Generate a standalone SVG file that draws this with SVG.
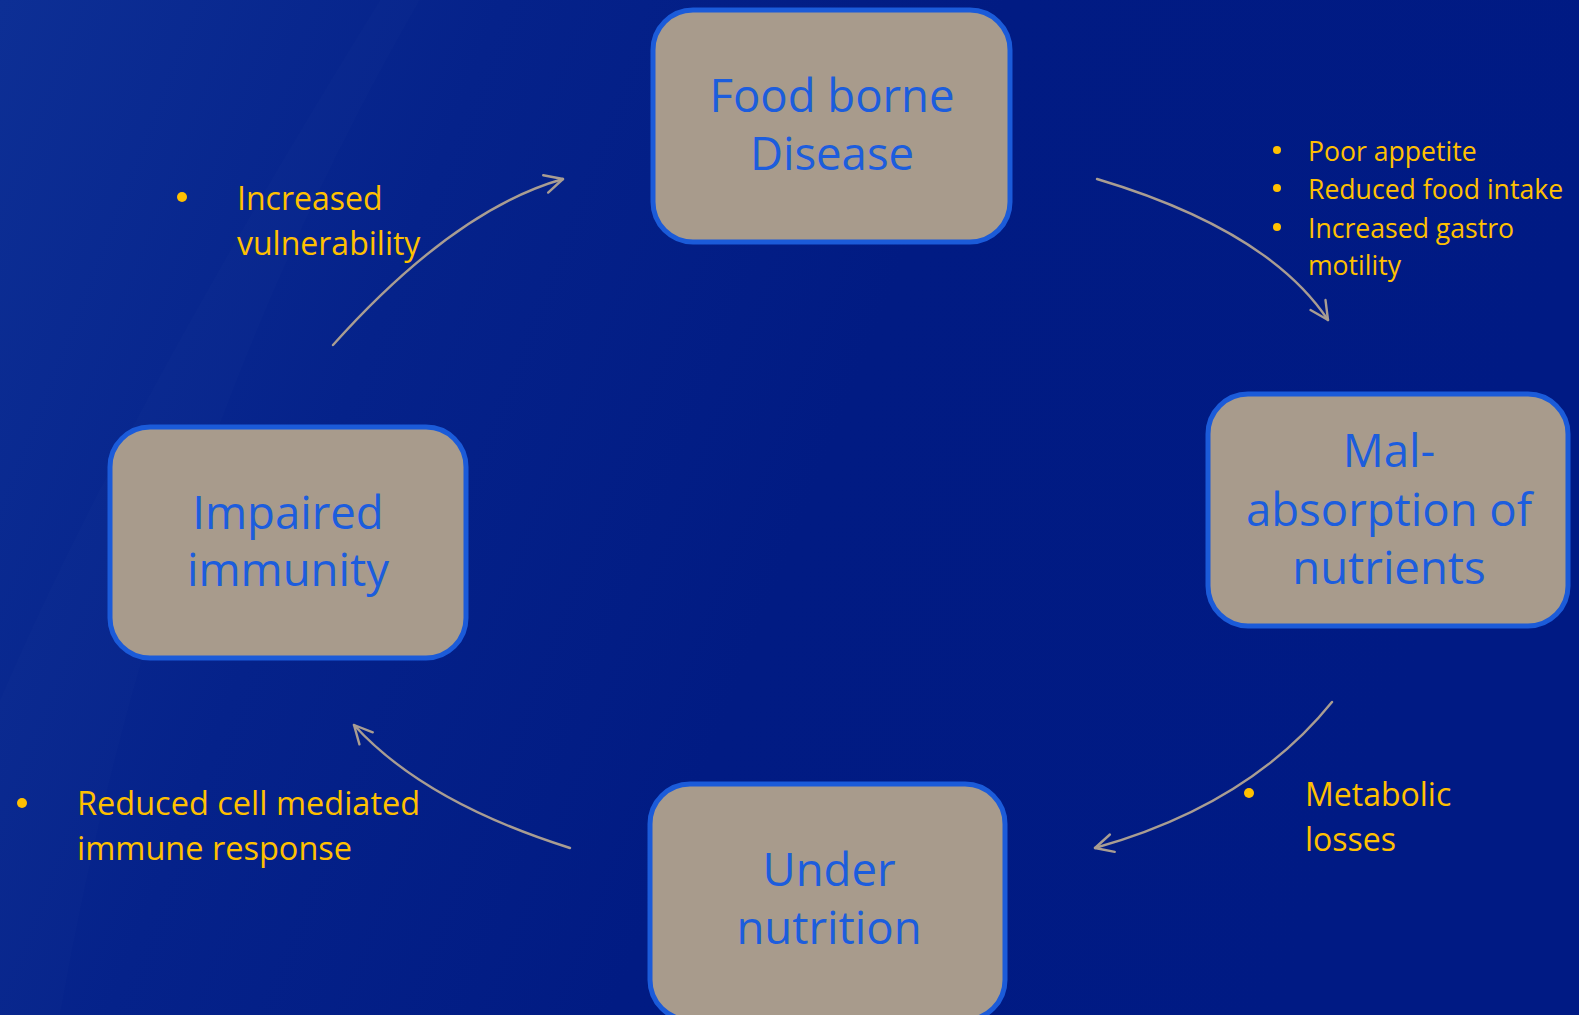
<svg xmlns="http://www.w3.org/2000/svg" width="1579" height="1015" viewBox="0 0 1579 1015">
  <style>
    .box rect { fill: #a89b8c; stroke: #1b5bd9; stroke-width: 5; }
    .box text { font-family: "Open Sans", "Noto Sans", sans-serif; font-size: 45.5px; fill: #1c5ddd; text-anchor: middle; }
    .lbl { font-family: "Open Sans", "Noto Sans", sans-serif; fill: #ffc000; }
    .lbl circle { fill: #ffc000; }
    .conn path { fill: none; stroke: #a99d92; stroke-width: 2.4; stroke-linecap: round; }
  </style>
  <defs>
    <linearGradient id="bg" x1="0" y1="0" x2="1" y2="0.25">
      <stop offset="0" stop-color="#0d2f95"/>
      <stop offset="0.3" stop-color="#05228a"/>
      <stop offset="0.6" stop-color="#011b83"/>
      <stop offset="1" stop-color="#001a84"/>
    </linearGradient>
    <marker id="ah" viewBox="0 0 22 22" refX="20" refY="11" markerWidth="22" markerHeight="22" markerUnits="userSpaceOnUse" orient="auto">
      <path d="M2,2 L20,11 L2,20" fill="none" stroke="#a99d92" stroke-width="2.4" stroke-linecap="round" stroke-linejoin="round"/>
    </marker>
  </defs>
  <rect x="0" y="0" width="1579" height="1015" fill="url(#bg)"/>
  <path d="M0,1015 L0,700 Q120,420 380,0 L420,0 Q160,450 60,1015 Z" fill="#ffffff" opacity="0.012"/>

  <g id="connectors" class="conn">
    <path d="M1097,179 Q1268,230 1328,320" marker-end="url(#ah)"/>
    <path d="M1332,702 Q1249,805 1095,848" marker-end="url(#ah)"/>
    <path d="M570,848 Q424,802 354,725" marker-end="url(#ah)"/>
    <path d="M333,345 Q454,210 563,179" marker-end="url(#ah)"/>
  </g>

  <g id="node-food-borne-disease" class="box">
    <rect x="653" y="10" width="357" height="232" rx="40"/>
    <text x="832" y="112">Food borne</text>
    <text x="832" y="170">Disease</text>
  </g>
  <g id="node-malabsorption" class="box">
    <rect x="1208" y="394" width="360" height="232" rx="40"/>
    <text x="1389" y="467">Mal-</text>
    <text x="1389" y="526">absorption of</text>
    <text x="1389" y="584">nutrients</text>
  </g>
  <g id="node-under-nutrition" class="box">
    <rect x="650" y="784" width="355" height="236" rx="40"/>
    <text x="829" y="886">Under</text>
    <text x="829" y="944">nutrition</text>
  </g>
  <g id="node-impaired-immunity" class="box">
    <rect x="110" y="427" width="356" height="231" rx="40"/>
    <text x="288" y="529">Impaired</text>
    <text x="288" y="586">immunity</text>
  </g>

  <g id="label-food-to-mal" class="lbl" font-size="26.6">
    <circle cx="1277" cy="150" r="4"/><text x="1308" y="161">Poor appetite</text>
    <circle cx="1277" cy="188" r="4"/><text x="1308" y="199">Reduced food intake</text>
    <circle cx="1277" cy="227" r="4"/><text x="1308" y="238">Increased gastro</text>
    <text x="1308" y="275">motility</text>
  </g>
  <g id="label-mal-to-under" class="lbl" font-size="32">
    <circle cx="1249" cy="793" r="5"/>
    <text x="1305" y="806">Metabolic</text>
    <text x="1305" y="851">losses</text>
  </g>
  <g id="label-under-to-impaired" class="lbl" font-size="32.5">
    <circle cx="22" cy="803" r="5"/>
    <text x="77" y="815">Reduced cell mediated</text>
    <text x="77" y="860">immune response</text>
  </g>
  <g id="label-impaired-to-food" class="lbl" font-size="32">
    <circle cx="182" cy="197" r="5"/>
    <text x="237" y="210">Increased</text>
    <text x="237" y="255">vulnerability</text>
  </g>
</svg>
